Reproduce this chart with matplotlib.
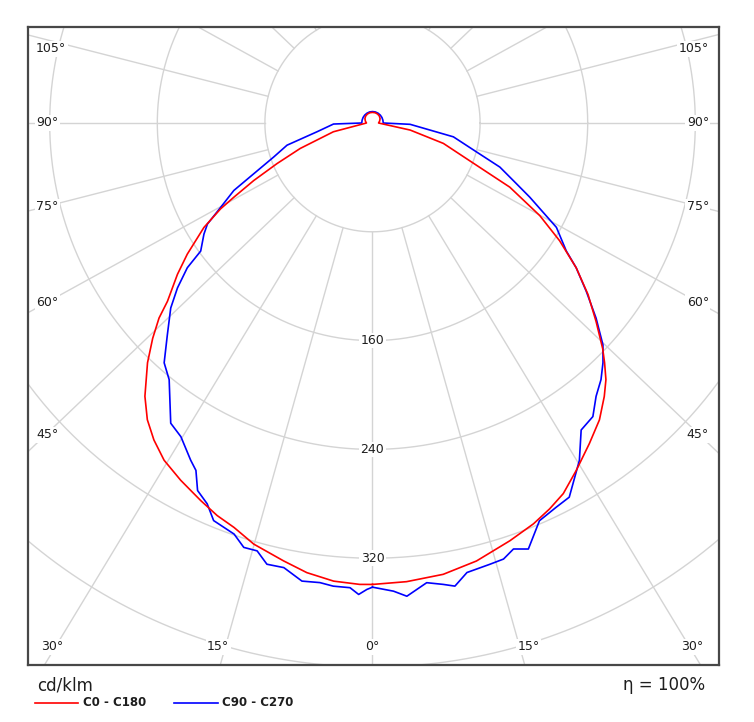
import numpy as np
import matplotlib
matplotlib.use("Agg")
import matplotlib.pyplot as plt
from matplotlib.lines import Line2D

# ---------------- data (cd/klm vs gamma angle in degrees) ----------------
c0_gamma = [0, 4.3, 9.0, 13.5, 18.4, 22.1, 24.9, 27.5, 30.7, 34.4, 37.7, 40.6, 42.6,
            44.4, 45.9, 48.7, 51.8, 54.9, 58.1, 61.3, 65.2, 68.1, 74.1, 79.5, 90,
            105, 120, 135, 150, 165, 180]
c0_int = [339.3, 338.2, 336.0, 331.2, 323.7, 318.1, 312.8, 307.2, 296.9, 285.5, 275.9,
          264.8, 256.4, 246.6, 238.3, 221.3, 203.9, 185.1, 163.9, 141.8, 112.4, 83.4,
          54.8, 28.5, 4.5, 5.5, 6.5, 7.2, 7.6, 7.8, 7.8]

c180_gamma = [0, 1.6, 4.9, 8.4, 11.6, 15.9, 19.1, 21.8, 24.7, 28.5, 32.0, 34.9, 37.5,
              40.1, 43.5, 45.9, 47.9, 49.3, 52.5, 55.0, 58.5, 60.8, 62.1, 64.4, 67.2,
              70.8, 77.5, 90, 105, 120, 135, 150, 165, 180]
c180_int = [339.3, 339.4, 338.1, 334.2, 328.7, 322.0, 314.7, 310.9, 305.6, 298.9, 292.4,
            284.1, 275.0, 262.7, 243.0, 227.6, 213.9, 201.1, 182.8, 168.1, 147.0, 129.4,
            116.7, 97.9, 77.0, 56.9, 29.8, 4.5, 5.5, 6.5, 7.2, 7.6, 7.8, 7.8]

c90_gamma = [0, 2.6, 4.2, 6.8, 8.8, 10.2, 12.0, 15.05, 16.9, 18.5, 20.3, 23.0, 25.8,
             28.0, 31.8, 34.5, 37.2, 39.6, 42.0, 44.2, 46.4, 49.2, 52.1, 54.9, 56.85,
             60.7, 65.0, 67.35, 71.1, 74.6, 80.4, 88.0, 90, 105, 120, 135, 150, 165, 180]
c90_int = [341.3, 344.6, 348.9, 340.4, 343.3, 346.0, 337.9, 336.0, 335.1, 330.3, 334.0,
           317.7, 313.8, 311.6, 291.9, 273.9, 271.0, 260.8, 253.9, 245.8, 236.6, 219.6,
           201.4, 185.1, 172.1, 156.8, 129.0, 116.0, 100.1, 80.3, 61.0, 28.0, 8.0,
           8.0, 8.1, 8.2, 8.3, 8.4, 8.4]

c270_gamma = [0, 0.7, 1.7, 2.8, 4.9, 6.6, 8.85, 11.4, 13.6, 15.25, 17.05, 18.8, 22.0,
              23.7, 25.7, 27.2, 28.6, 31.7, 34.2, 38.7, 41.3, 44.4, 47.8, 50.1, 52.3,
              53.6, 56.9, 58.8, 61.2, 64.3, 67.1, 71.2, 75.6, 81.1, 88.5, 90,
              105, 120, 135, 150, 165, 180]
c270_int = [341.3, 343.0, 346.8, 342.1, 341.8, 340.2, 340.9, 333.5, 333.8, 326.1, 326.4,
            319.3, 315.3, 305.8, 299.9, 287.2, 282.4, 271.1, 266.9, 241.8, 234.7, 218.0,
            202.5, 189.0, 174.0, 158.7, 149.6, 143.5, 128.9, 114.4, 95.8, 77.6, 65.6,
            41.8, 29.0, 8.0, 8.0, 8.1, 8.2, 8.3, 8.4, 8.4]

ring_values = [80, 160, 240, 320, 400, 480]
ring_labels = ["160", "240", "320"]
spoke_angles = list(range(0, 360, 15))
series_names = ["C0 - C180", "C90 - C270"]
unit_label = "cd/klm"
eta_label = "\u03b7 = 100%"

# ---------------- layout ----------------
W, H = 754, 722
fig = plt.figure(figsize=(W / 100, H / 100), dpi=100)
box_l, box_r, box_t, box_b = 28, 719, 27, 665
cx, cy = 372.5, 123.0
sx, sy = 1.345, 1.36   # px per cd/klm

ax = fig.add_axes([box_l / W, 1 - box_b / H, (box_r - box_l) / W, (box_b - box_t) / H])
ax.set_xlim((box_l - cx) / sx, (box_r - cx) / sx)
ax.set_ylim((cy - box_b) / sy, (cy - box_t) / sy)
ax.set_xticks([]); ax.set_yticks([])
for sp in ax.spines.values():
    sp.set_color("#474747"); sp.set_linewidth(1.6)

grid_c = "#d4d4d4"
t = np.linspace(0, 2 * np.pi, 721)
for r in ring_values:
    ax.plot(r * np.cos(t), r * np.sin(t), color=grid_c, lw=1.0, zorder=1)

stretch = 1.06
for a in spoke_angles:
    th = np.radians(a)
    dx, dy = stretch * np.sin(th), -np.cos(th)
    n = np.hypot(dx, dy)
    dx, dy = dx / n, dy / n
    ax.plot([80 * dx, 900 * dx], [80 * dy, 900 * dy], color=grid_c, lw=1.0, zorder=1)

txt_c = "#1e1e1e"
lab_kw = dict(fontsize=9, color=txt_c, va="center", zorder=3,
              bbox=dict(facecolor="white", edgecolor="none", pad=1.0))
for lab in ring_labels:
    v = float(lab)
    ax.text(0, -v, lab, ha="center", **lab_kw)

def px(x, y):
    return x / W, 1 - y / H

side_y = {105: 49, 90: 123, 75: 207, 60: 302, 45: 435}
for a, yy in side_y.items():
    fig.text(*px(36, yy), f"{a}\u00b0", ha="left", **lab_kw)
    fig.text(*px(709, yy), f"{a}\u00b0", ha="right", **lab_kw)
bottom_x = [(30, 52), (15, 218), (0, 372.5), (15, 528.5), (30, 692.5)]
for a, xx in bottom_x:
    fig.text(*px(xx, 647), f"{a}\u00b0", ha="center", **lab_kw)

def closed_curve(g_r, i_r, g_l, i_l):
    gr, ir = np.radians(np.array(g_r)), np.array(i_r)
    gl, il = np.radians(np.array(g_l))[::-1], np.array(i_l)[::-1]
    x = np.concatenate([ir * np.sin(gr), -il * np.sin(gl)])
    y = np.concatenate([-ir * np.cos(gr), -il * np.cos(gl)])
    return x, y

xr, yr = closed_curve(c0_gamma, c0_int, c180_gamma, c180_int)
xb, yb = closed_curve(c90_gamma, c90_int, c270_gamma, c270_int)
ax.plot(xb, yb, color="#0000ff", lw=1.2, zorder=4)
ax.plot(xr, yr, color="#ff0000", lw=1.2, zorder=5)

# ---------------- legend / footer ----------------
fig.text(*px(37, 685), unit_label, fontsize=12, color=txt_c, ha="left", va="center")
fig.text(*px(705, 685), eta_label, fontsize=12, color=txt_c, ha="right", va="center")
for (x0, x1, xt), name, col in zip([(35, 78, 83), (174, 218, 222)], series_names,
                                    ["#ff0000", "#0000ff"]):
    fig.add_artist(Line2D([x0 / W, x1 / W], [1 - 703 / H] * 2, color=col, lw=1.2,
                          transform=fig.transFigure))
    fig.text(*px(xt, 703), name, fontsize=8.5, fontweight="bold", color=txt_c,
             ha="left", va="center")

fig.savefig("out.png", dpi=100, facecolor="white")
